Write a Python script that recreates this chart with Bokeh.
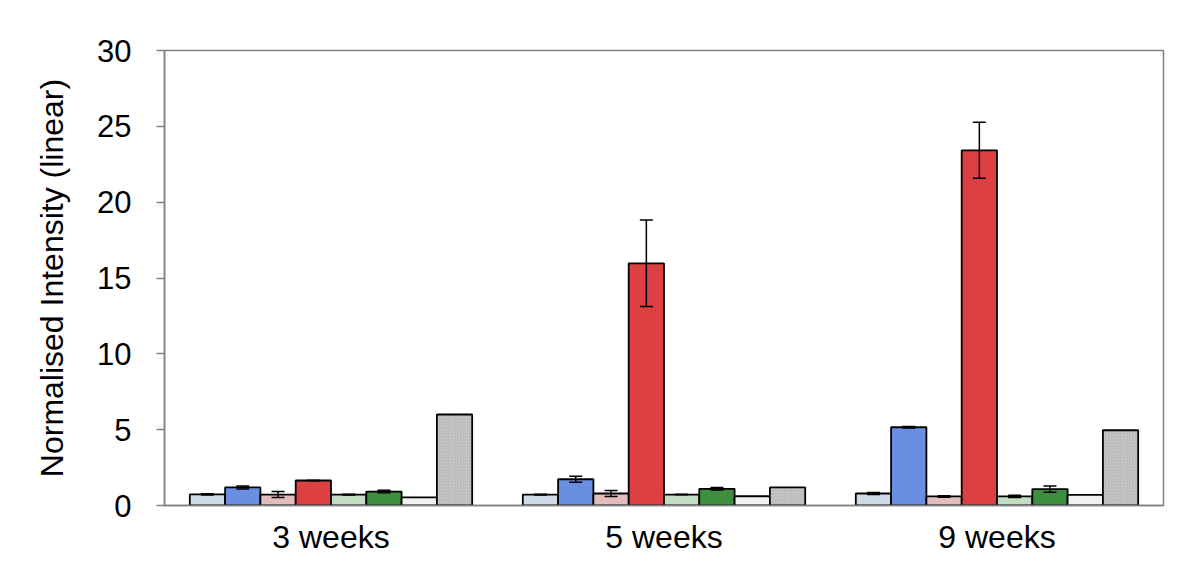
from bokeh.plotting import figure
from bokeh.models import ColumnDataSource, FactorRange, Whisker, TeeHead, FixedTicker
from bokeh.transform import dodge
from bokeh.embed import file_html
from bokeh.resources import INLINE

weeks = ["3 weeks", "5 weeks", "9 weeks"]
series = ["s1", "s2", "s3", "s4", "s5", "s6", "s7", "s8"]
colors = ["#CFDAE9", "#6A8FE2", "#E3BDBC", "#DC4043", "#C3DDC2", "#3D8F3D", "#F1F1F1", "#CBCBCB"]

values = {
    "s1": [0.73, 0.72, 0.79],
    "s2": [1.19, 1.73, 5.16],
    "s3": [0.72, 0.79, 0.60],
    "s4": [1.65, 15.97, 23.42],
    "s5": [0.72, 0.72, 0.60],
    "s6": [0.92, 1.10, 1.08],
    "s7": [0.53, 0.61, 0.70],
    "s8": [6.00, 1.19, 4.96],
}
errors = {
    "s1": [0.04, 0.03, 0.06],
    "s2": [0.10, 0.20, 0.05],
    "s3": [0.20, 0.20, 0.05],
    "s4": [0.0, 2.85, 1.85],
    "s5": [0.03, 0.0, 0.08],
    "s6": [0.08, 0.08, 0.20],
    "s7": [0.0, 0.0, 0.0],
    "s8": [0.0, 0.0, 0.0],
}

FONT = "Liberation Sans"

p = figure(x_range=FactorRange(*weeks, range_padding=0), y_range=(0, 30),
           width=1192, height=572, output_backend="svg", toolbar_location=None,
           min_border_left=164, min_border_right=29, min_border_top=50, min_border_bottom=67)
p.background_fill_color = "white"
p.border_fill_color = "white"
p.outline_line_color = "#808080"
p.outline_line_width = 1.5
p.xgrid.visible = False
p.ygrid.visible = False

n = len(series)
bw = 0.106
for i, (s, c) in enumerate(zip(series, colors)):
    off = (i - (n - 1) / 2) * bw
    src = ColumnDataSource(dict(
        week=weeks,
        val=values[s],
        upper=[v + e for v, e in zip(values[s], errors[s])],
        lower=[v - e for v, e in zip(values[s], errors[s])],
    ))
    kw = {}
    if s == "s8":
        kw = dict(hatch_pattern="right_diagonal_line", hatch_scale=3, hatch_color="#A8A8A8",
                  hatch_weight=0.6)
    p.vbar(x=dodge("week", off, range=p.x_range), top="val", width=bw, source=src,
           fill_color=c, line_color="black", line_width=1.8, **kw)
    if any(e > 0 for e in errors[s]):
        w = Whisker(base=dodge("week", off, range=p.x_range), upper="upper", lower="lower",
                    source=src, line_color="black", line_width=1.5, level="overlay",
                    upper_head=TeeHead(size=13, line_width=1.5, line_color="black"),
                    lower_head=TeeHead(size=13, line_width=1.5, line_color="black"))
        p.add_layout(w)

p.yaxis.ticker = FixedTicker(ticks=[0, 5, 10, 15, 20, 25, 30])
p.yaxis.axis_line_color = "#808080"
p.yaxis.axis_line_width = 1.5
p.yaxis.major_tick_line_color = "#808080"
p.yaxis.major_tick_line_width = 1.5
p.yaxis.major_tick_out = 8
p.yaxis.major_tick_in = 0
p.yaxis.minor_tick_line_color = None
p.yaxis.major_label_text_font = FONT
p.yaxis.major_label_text_font_size = "31px"
p.yaxis.major_label_text_color = "black"
p.yaxis.major_label_standoff = 25
p.yaxis.axis_label = "Normalised Intensity (linear)"
p.yaxis.axis_label_text_font = FONT
p.yaxis.axis_label_text_font_size = "32px"
p.yaxis.axis_label_text_font_style = "normal"
p.yaxis.axis_label_text_color = "black"
p.yaxis.axis_label_standoff = 24

p.xaxis.axis_line_color = "#808080"
p.xaxis.axis_line_width = 1.5
p.xaxis.major_tick_line_color = None
p.xaxis.minor_tick_line_color = None
p.xaxis.major_label_text_font = FONT
p.xaxis.major_label_text_font_size = "32px"
p.xaxis.major_label_text_color = "black"
p.xaxis.major_label_standoff = 7

open("out.html", "w").write(file_html(p, INLINE))
